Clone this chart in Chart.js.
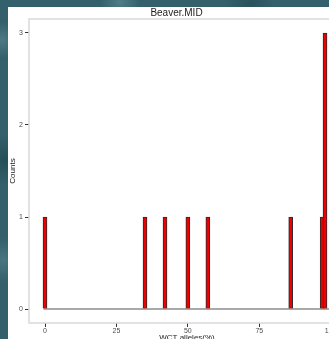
<!DOCTYPE html>
<html>
<head>
<meta charset="utf-8">
<script src="https://cdn.jsdelivr.net/npm/chart.js@4"></script>
<style>
  html, body { margin: 0; padding: 0; width: 329px; height: 339px; overflow: hidden; }
  body {
    background-color: #33606b;
    background-image:
      radial-gradient(circle at 2px 40px, #4d7a84 0, transparent 18px),
      radial-gradient(circle at 5px 160px, #264e58 0, transparent 25px),
      radial-gradient(circle at 3px 260px, #4a7580 0, transparent 22px),
      radial-gradient(circle at 120px 2px, #4f7c86 0, transparent 20px),
      radial-gradient(circle at 250px 4px, #2a525c 0, transparent 24px);
  }
  #panel { position: absolute; left: 8px; top: 7px; width: 360px; height: 345px; background: #fff; }
  canvas { display: block; }
</style>
</head>
<body>
<div id="panel"><canvas id="histChart" width="360" height="345"></canvas></div>
<script>
// allele percentage bins that hold fish, and how many in each
const alleles = [0, 35, 42, 50, 57, 86, 97, 98];
const counts = [1, 1, 1, 1, 1, 1, 1, 3];
const xTicks = [0, 25, 50, 75, 100];
const yTicks = [0, 1, 2, 3];
const binRange = [-0.5, 100.5];

// light grey box around the plotting panel
const panelFrame = {
  id: 'panelFrame',
  beforeDatasetsDraw(chart) {
    const { ctx, chartArea: a } = chart;
    ctx.save();
    ctx.strokeStyle = '#d9d9d9';
    ctx.lineWidth = 1.5;
    ctx.strokeRect(a.left, a.top, a.right - a.left, a.bottom - a.top);
    ctx.restore();
  }
};

const tickFont = { family: 'Liberation Sans, Arial, sans-serif', size: 7 };
const titleFont = { family: 'Liberation Sans, Arial, sans-serif', size: 8 };

new Chart(document.getElementById('histChart'), {
  data: {
    datasets: [{
      type: 'line',
      data: binRange.map(x => ({ x, y: 0 })),
      borderColor: '#555',
      borderWidth: 1.2,
      pointRadius: 0,
      order: 2
    }, {
      type: 'bar',
      label: 'Counts',
      data: alleles.map((a, i) => ({ x: a, y: counts[i] })),
      backgroundColor: '#ee0000',
      borderColor: '#2b2b2b',
      borderWidth: 1,
      barThickness: 4,
      grouped: false,
      order: 1
    }]
  },
  options: {
    responsive: false,
    animation: false,
    layout: { padding: { left: 0, right: 23, top: 0, bottom: 9 } },
    plugins: {
      legend: { display: false },
      tooltip: { enabled: false },
      title: {
        display: true,
        text: 'Beaver.MID',
        color: '#222',
        font: { family: 'Liberation Sans, Arial, sans-serif', size: 10, weight: 'normal' },
        padding: { top: 0, bottom: 0 }
      }
    },
    scales: {
      x: {
        type: 'linear',
        offset: false,
        min: -5.6,
        max: 105,
        afterBuildTicks: s => { s.ticks = xTicks.map(v => ({ value: v })); },
        afterFit: s => { s.height = 20; },
        border: { display: false },
        grid: { offset: false, drawOnChartArea: false, tickLength: 4, color: '#333', tickWidth: 1 },
        ticks: { font: tickFont, color: '#4d4d4d', padding: 0, maxRotation: 0 },
        title: { display: true, text: 'WCT alleles(%)', font: titleFont, color: '#222', padding: { top: 0, bottom: 0 } }
      },
      y: {
        min: -0.152,
        max: 3.152,
        afterBuildTicks: s => { s.ticks = yTicks.map(v => ({ value: v })); },
        afterFit: s => { s.width = 21; },
        border: { display: false },
        grid: { drawOnChartArea: false, tickLength: 4, color: '#333', tickWidth: 1 },
        ticks: { font: tickFont, color: '#4d4d4d', padding: 2 },
        title: { display: true, text: 'Counts', font: titleFont, color: '#222', padding: { top: 0, bottom: 0 } }
      }
    }
  },
  plugins: [panelFrame]
});
</script>
</body>
</html>
